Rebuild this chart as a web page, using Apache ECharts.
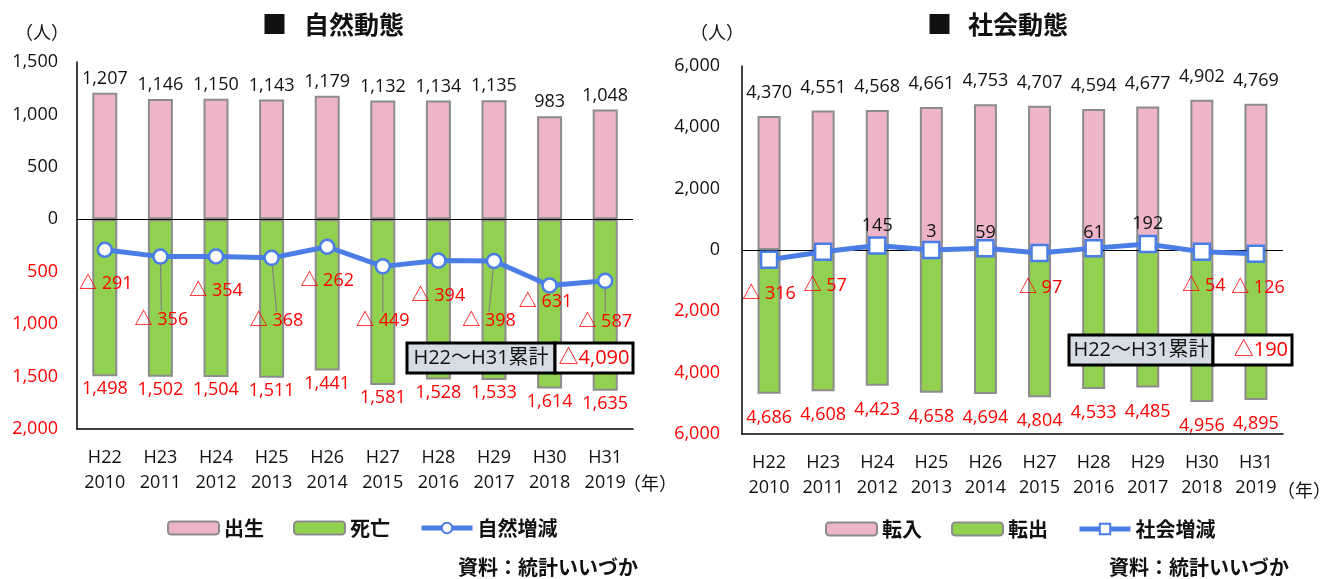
<!DOCTYPE html>
<html><head><meta charset="utf-8">
<script src="https://cdn.jsdelivr.net/npm/echarts@6/dist/echarts.min.js"></script>
<style>html,body{margin:0;padding:0;background:#fff}#c{width:1330px;height:579px}</style>
</head><body><div id="c"></div>
<script>
// ---- data ----
const eraLabels  = ['H22','H23','H24','H25','H26','H27','H28','H29','H30','H31'];
const yearLabels = ['2010','2011','2012','2013','2014','2015','2016','2017','2018','2019'];
const births        = [1207,1146,1150,1143,1179,1132,1134,1135,983,1048];
const deaths        = [1498,1502,1504,1511,1441,1581,1528,1533,1614,1635];
const naturalChange = [-291,-356,-354,-368,-262,-449,-394,-398,-631,-587];
const moveIn        = [4370,4551,4568,4661,4753,4707,4594,4677,4902,4769];
const moveOut       = [4686,4608,4423,4658,4694,4804,4533,4485,4956,4895];
const socialChange  = [-316,-57,145,3,59,-97,61,192,-54,-126];
const naturalAxis = {min:-2000, max:1500, interval:500};
const socialAxis  = {min:-6000, max:6000, interval:2000};

// ---- label placement (layout only) ----
const natLabelShift = [[1,34],[1,63],[0,34],[5,63],[0,34],[0,55],[0,35],[-5,60],[-4,16],[0,41]];
const natLeader     = [false,true,false,true,false,true,false,true,false,true];
const socLabelShift = [[0,34],[2,34],[0,-20],[0,-18],[0,-15],[1,35],[0,-15],[0,-20],[2,34],[2,34]];

const FONT = "'Open Sans','Noto Sans CJK JP',sans-serif";
const JP = "'Noto Sans CJK JP',sans-serif";
const PINK = '#EDB5C7', GREEN = '#92D050', BLUE = '#4A7DE6', BORDER = '#8C8C8C';
const fmt = v => Math.abs(v).toLocaleString('en-US');
const cats = eraLabels.map((e,i)=> e + '\n' + yearLabels[i]);
const sum = a => a.reduce((s,v)=>s+v,0);
const deltaFmt = v => v < 0 ? '△' + fmt(v) : fmt(v);

function xAxis(gi){
  return {type:'category', gridIndex:gi, data:cats,
    axisLine:{onZero:false, lineStyle:{color:'#000', width:1.5}},
    axisTick:{inside:true, length:6, lineStyle:{color:'#000', width:1.2}},
    axisLabel:{fontFamily:FONT, fontSize:18, color:'#111', lineHeight:25, margin:16}};
}
function yAxis(gi, ax, margin){
  return {type:'value', gridIndex:gi, min:ax.min, max:ax.max, interval:ax.interval,
    splitLine:{show:false},
    axisLine:{show:true, lineStyle:{color:'#000', width:1.5}},
    axisTick:{show:false},
    axisLabel:{fontFamily:FONT, fontSize:18, margin:margin,
      color:(v)=> v < 0 ? '#FF0000' : '#111',
      formatter:(v)=> fmt(v)}};
}
const zeroLine = {silent:true, symbol:'none', label:{show:false},
  lineStyle:{color:'#000', width:1.2, type:'solid'}, data:[{yAxis:0}]};

function barSeries(name, gi, vals, neg, pos, dist){
  return {name, type:'bar', xAxisIndex:gi, yAxisIndex:gi, stack:'s'+gi,
    barWidth: gi===0 ? 25 : 23,
    data: vals.map(v => neg ? -v : v),
    itemStyle:{color: neg ? GREEN : PINK, borderColor:BORDER, borderWidth:2},
    label:{show:true, position:pos, distance:dist, fontFamily:FONT, fontSize:18,
      color: neg ? '#FF0000' : '#111', formatter:(p)=> fmt(p.value)},
    markLine: neg ? undefined : zeroLine, z:2};
}
function lineSeries(name, gi, vals, symbol, size, shifts, leaders){
  return {name, type:'line', xAxisIndex:gi, yAxisIndex:gi, z:5,
    data: vals.map((v,i)=>({value:v, labelLine:{show: leaders ? leaders[i] : false}})),
    symbol, symbolSize:size, showAllSymbol:true,
    lineStyle:{color:BLUE, width:5},
    itemStyle:{color:'#fff', borderColor:BLUE, borderWidth:2.5},
    label:{show:true, position:'inside', fontFamily:FONT, fontSize:18,
      formatter:(p)=> p.value < 0 ? '{n|△ ' + fmt(p.value) + '}' : '{p|' + fmt(p.value) + '}',
      rich:{n:{color:'#FF0000', fontFamily:FONT, fontSize:18}, p:{color:'#111', fontFamily:FONT, fontSize:18}}},
    labelLine:{show:false, lineStyle:{color:'#808080', width:1.2}},
    labelLayout:(p)=>({dx:shifts[p.dataIndex][0], dy:shifts[p.dataIndex][1]})};
}
function summaryBox(x,y,w1,w2,h,valText,valAlign){
  return {type:'group', x, y, z:100, children:[
    {type:'rect', z:100, shape:{x:0,y:0,width:w1,height:h}, style:{fill:'#D6DCE4', stroke:'#000', lineWidth:3}},
    {type:'rect', z:100, shape:{x:w1,y:0,width:w2,height:h}, style:{fill:'#fff', stroke:'#000', lineWidth:3}},
    {type:'text', z:101, x:w1/2, y:h/2, style:{text:'H22～H31累計', fontFamily:FONT, fontSize:20, fill:'#111', align:'center', verticalAlign:'middle'}},
    {type:'text', z:101, x: valAlign==='right' ? w1+w2-4 : w1+w2/2, y:h/2, style:{text:valText, fontFamily:FONT, fontSize:20, fill:'#FF0000', align:valAlign, verticalAlign:'middle'}}
  ]};
}
const legendText = {fontFamily:JP, fontSize:20, fontWeight:'bold', color:'#111'};

const chart = echarts.init(document.getElementById('c'), null, {renderer:'canvas'});
chart.setOption({
  animation:false,
  backgroundColor:'#fff',
  grid:[{left:77, top:62, width:556, height:367}, {left:742, top:66, width:541, height:368}],
  xAxis:[xAxis(0), xAxis(1)],
  yAxis:[yAxis(0, naturalAxis, 19), yAxis(1, socialAxis, 22)],
  legend:[
    {data:['出生','死亡','自然増減'], left:162, top:513, itemWidth:51, itemHeight:13, itemGap:29,
     lineStyle:{width:5}, textStyle:legendText},
    {data:['転入','転出','社会増減'], left:820, top:514, itemWidth:51, itemHeight:13, itemGap:29,
     lineStyle:{width:5}, textStyle:legendText}
  ],
  series:[
    barSeries('出生', 0, births, false, 'top', 5),
    barSeries('死亡', 0, deaths, true, 'bottom', 4),
    lineSeries('自然増減', 0, naturalChange, 'circle', 14, natLabelShift, natLeader),
    barSeries('転入', 1, moveIn, false, 'top', 14),
    barSeries('転出', 1, moveOut, true, 'bottom', 15),
    lineSeries('社会増減', 1, socialChange, 'rect', 16, socLabelShift, null)
  ],
  graphic:[
    {type:'text', x:262, y:24, style:{text:'■', fontFamily:JP, fontSize:25, fontWeight:'bold', fill:'#111', verticalAlign:'middle'}},
    {type:'text', x:304, y:24, style:{text:'自然動態', fontFamily:JP, fontSize:25, fontWeight:'bold', fill:'#111', verticalAlign:'middle'}},
    {type:'text', x:927, y:24, style:{text:'■', fontFamily:JP, fontSize:25, fontWeight:'bold', fill:'#111', verticalAlign:'middle'}},
    {type:'text', x:968, y:24, style:{text:'社会動態', fontFamily:JP, fontSize:25, fontWeight:'bold', fill:'#111', verticalAlign:'middle'}},
    {type:'text', x:15, y:32, style:{text:'（人）', fontFamily:JP, fontSize:18, fill:'#111', verticalAlign:'middle'}},
    {type:'text', x:690, y:32, style:{text:'（人）', fontFamily:JP, fontSize:18, fill:'#111', verticalAlign:'middle'}},
    {type:'text', x:623, y:483, style:{text:'（年）', fontFamily:JP, fontSize:18, fill:'#111', verticalAlign:'middle'}},
    {type:'text', x:1277, y:490, style:{text:'（年）', fontFamily:JP, fontSize:18, fill:'#111', verticalAlign:'middle'}},
    {type:'text', x:458, y:567, style:{text:'資料：統計いいづか', fontFamily:JP, fontSize:20, fontWeight:'bold', fill:'#111', verticalAlign:'middle'}},
    {type:'text', x:1109, y:567, style:{text:'資料：統計いいづか', fontFamily:JP, fontSize:20, fontWeight:'bold', fill:'#111', verticalAlign:'middle'}},
    summaryBox(407, 343, 148, 78, 30, deltaFmt(sum(naturalChange)), 'center'),
    summaryBox(1069, 335, 144, 79, 30, deltaFmt(sum(socialChange)), 'right')
  ]
});
</script></body></html>
